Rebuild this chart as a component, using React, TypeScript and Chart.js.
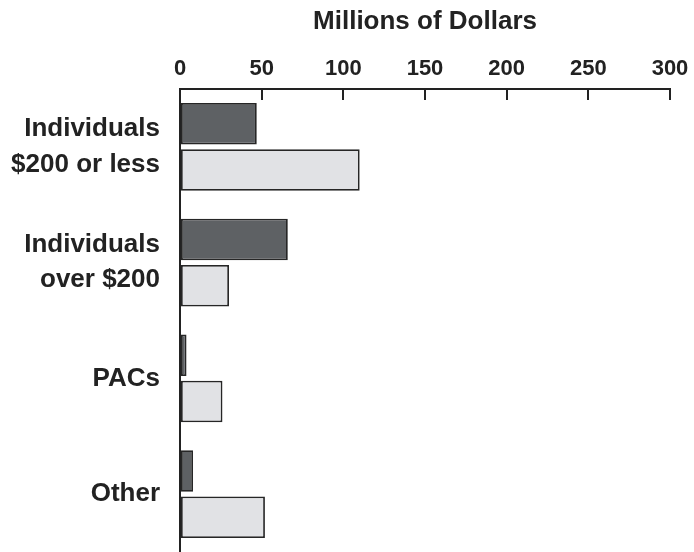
import React, { useEffect, useRef } from "react";
import { Chart, registerables } from "chart.js";

Chart.register(...registerables);

const categories: string[][] = [
  ["Individuals", "$200 or less"],
  ["Individuals", "over $200"],
  ["PACs"],
  ["Other"],
];
const darkSeries: number[] = [47, 66, 4, 8];
const lightSeries: number[] = [110, 30, 26, 52];
const xTicks: number[] = [0, 50, 100, 150, 200, 250, 300];
const axisTitle = "Millions of Dollars";

const FONT = "'Liberation Sans', Arial, Helvetica, sans-serif";

export default function App() {
  const ref = useRef<HTMLCanvasElement | null>(null);

  useEffect(() => {
    document.body.style.margin = "0";
    const canvas = ref.current;
    if (!canvas) return;
    const chart = new Chart(canvas, {
      type: "bar",
      data: {
        labels: categories,
        datasets: [
          {
            label: "Dark",
            data: darkSeries,
            backgroundColor: "#5e6164",
            borderColor: "#262626",
            borderWidth: 1.8,
            borderSkipped: false,
          },
          {
            label: "Light",
            data: lightSeries,
            backgroundColor: "#e1e2e5",
            borderColor: "#262626",
            borderWidth: 1.8,
            borderSkipped: false,
          },
        ],
      },
      options: {
        indexAxis: "y",
        responsive: false,
        animation: false,
        datasets: {
          bar: { categoryPercentage: 0.8, barPercentage: 0.9 },
        },
        layout: { padding: { top: 0, right: 24, bottom: 0, left: 0 } },
        plugins: {
          legend: { display: false },
          tooltip: { enabled: false },
          title: { display: false },
        },
        scales: {
          x: {
            type: "linear",
            position: "top",
            min: 0,
            max: 300,
            afterBuildTicks: (scale: any) => {
              scale.ticks = xTicks.map((v) => ({ value: v }));
            },
            afterFit: (scale: any) => {
              scale.height = 89;
              scale.paddingLeft = 0;
              scale.paddingRight = 0;
            },
            title: {
              display: true,
              text: axisTitle,
              color: "#222222",
              font: { family: FONT, size: 26, weight: "bold" },
              padding: { top: 6, bottom: 0 },
            },
            ticks: {
              color: "#222222",
              padding: 18,
              font: { family: FONT, size: 22, weight: "bold" },
            },
            grid: {
              display: true,
              drawOnChartArea: false,
              drawTicks: true,
              tickLength: -11,
              color: "#222222",
              lineWidth: 2,
            },
            border: { display: true, color: "#222222", width: 2 },
          },
          y: {
            type: "category",
            position: "left",
            offset: true,
            afterFit: (scale: any) => {
              scale.width = 180;
              scale.paddingTop = 0;
              scale.paddingBottom = 0;
            },
            ticks: {
              color: "#222222",
              padding: 20,
              font: { family: FONT, size: 26, weight: "bold", lineHeight: 1.35 },
            },
            grid: { display: false, drawTicks: false },
            border: { display: true, color: "#222222", width: 2 },
          },
        },
      },
    });
    return () => chart.destroy();
  }, []);

  return (
    <div style={{ position: "absolute", left: 0, top: 0, width: 694, height: 552, background: "#ffffff" }}>
      <canvas ref={ref} width={694} height={552} style={{ display: "block" }} />
    </div>
  );
}
